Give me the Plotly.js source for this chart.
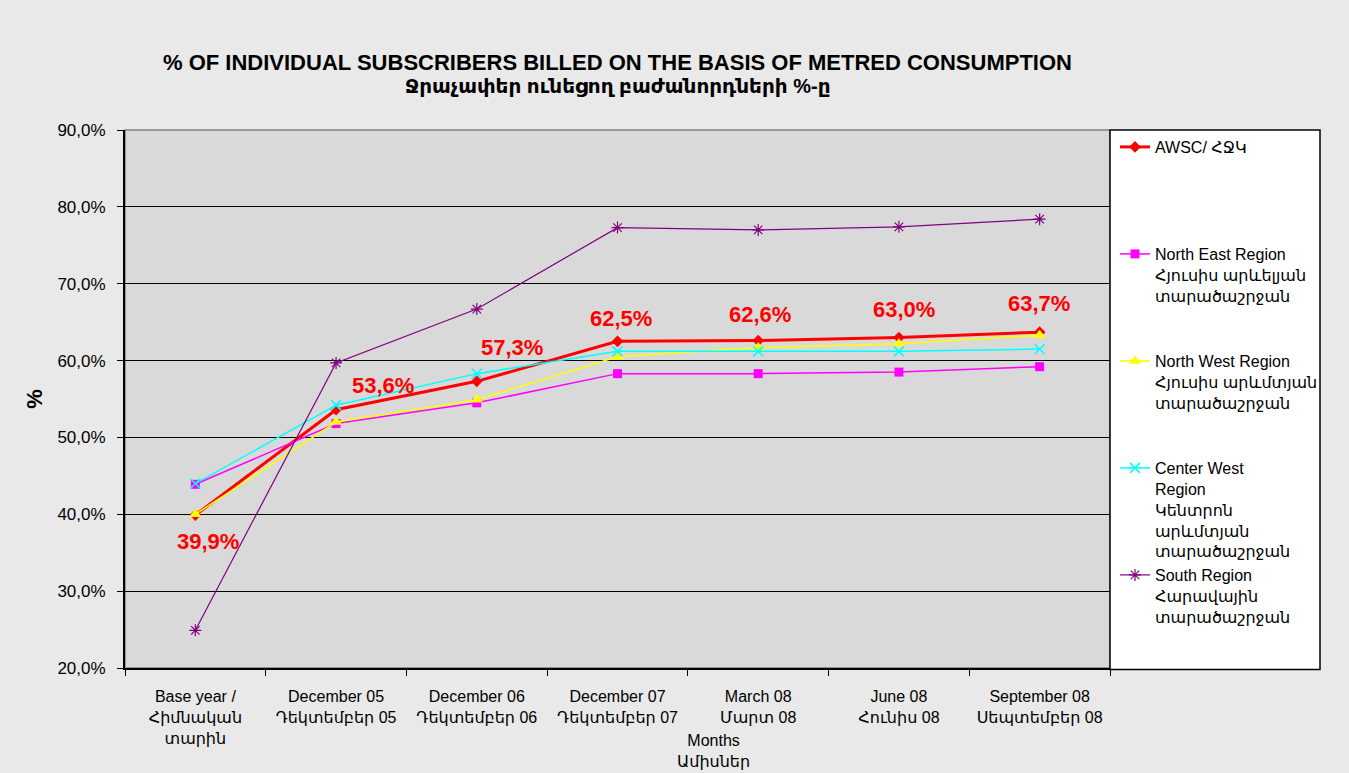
<!DOCTYPE html>
<html>
<head>
<meta charset="utf-8">
<script src="https://cdn.plot.ly/plotly-3.0.1.min.js"></script>
<style>
html,body{margin:0;padding:0;background:#e9e9e9;}
#chart{width:1349px;height:773px;}
</style>
</head>
<body>
<div id="chart"></div>
<script>
// ---- data ----
const categories = ["base", "dec05", "dec06", "dec07", "mar08", "jun08", "sep08"];
const tickLabels = [
  "Base year /<br>Հիմնական<br>տարին",
  "December 05<br>Դեկտեմբեր 05",
  "December 06<br>Դեկտեմբեր 06",
  "December 07<br>Դեկտեմբեր 07",
  "March 08<br>Մարտ 08",
  "June 08<br>Հունիս 08",
  "September 08<br>Սեպտեմբեր 08"
];
const awsc      = [39.9, 53.6, 57.3, 62.5, 62.6, 63.0, 63.7];
const northEast = [43.9, 51.8, 54.5, 58.3, 58.3, 58.5, 59.2];
const northWest = [40.0, 52.0, 54.9, 60.5, 61.7, 62.2, 63.3];
const centerWest= [44.0, 54.2, 58.3, 61.2, 61.2, 61.2, 61.5];
const south     = [24.9, 59.7, 66.7, 77.3, 77.0, 77.4, 78.4];
const seriesNames = [
  "AWSC/ ՀՋԿ",
  "North East Region<br>Հյուսիս արևելյան<br>տարածաշրջան",
  "North West Region<br>Հյուսիս արևմտյան<br>տարածաշրջան",
  "Center West<br>Region<br>Կենտրոն<br>արևմտյան<br>տարածաշրջան",
  "South Region<br>Հարավային<br>տարածաշրջան"
];
const yTickVals = [20, 30, 40, 50, 60, 70, 80, 90];
const yTickText = ["20,0%", "30,0%", "40,0%", "50,0%", "60,0%", "70,0%", "80,0%", "90,0%"];
const titleLine1 = "% OF INDIVIDUAL SUBSCRIBERS BILLED ON THE BASIS OF METRED CONSUMPTION";
const titleLine2 = "Ջրաչափեր ունեցող բաժանորդների %-ը";
const xTitle = "Months<br>Ամիսներ";
const yTitle = "%";

// ---- styles ----
const FONT = "Liberation Sans, Arial, Noto Sans, DejaVu Sans, sans-serif";
const labelDx = [13, 47, 35, 3, 2, 5, -1];
const labelDy = [-26, 24, 34, 23, 26, 28, 29];

function padName(s){
  const n = s.split("<br>").length;
  let out = s;
  for (let i = n; i < 5; i++) out += "<br>\u00a0";
  return out;
}

const traces = [
  {y: awsc, name: seriesNames[0], line:{color:"#ff0000", width:3},
   marker:{symbol:"diamond", size:9, color:"#ff0000"}},
  {y: northEast, name: seriesNames[1], line:{color:"#ff00ff", width:1.5},
   marker:{symbol:"square", size:9, color:"#ff00ff"}},
  {y: northWest, name: seriesNames[2], line:{color:"#ffff00", width:1.5},
   marker:{symbol:"triangle-up", size:11, color:"#ffff00"}},
  {y: centerWest, name: seriesNames[3], line:{color:"#00ffff", width:1.5},
   marker:{symbol:"x-thin-open", size:10, color:"#00ffff", line:{width:1.5, color:"#00ffff"}}},
  {y: south, name: seriesNames[4], line:{color:"#800080", width:1.2},
   marker:{symbol:"asterisk-open", size:10, color:"#800080", line:{width:1.2, color:"#800080"}}}
].map(t => Object.assign({x: categories, type:"scatter", mode:"lines+markers"}, t, {name: padName(t.name)}));

const annotations = awsc.map((v, i) => ({
  x: categories[i], y: v, xref:"x", yref:"y",
  text: v.toFixed(1).replace(".", ",") + "%",
  showarrow:false, xshift: labelDx[i], yshift: labelDy[i],
  font:{family:FONT, size:22, color:"#ff0000", weight:"bold"}
}));
annotations.push({
  xref:"paper", yref:"paper", x:0.597, y:0, yshift:-62, yanchor:"top",
  text: xTitle, showarrow:false, align:"center",
  font:{family:FONT, size:16, color:"#000"}
});
annotations.push({
  xref:"paper", yref:"paper", x:0.5, y:1, yshift:130 - 86, yanchor:"middle",
  text: "<b>" + titleLine2 + "</b>", showarrow:false,
  font:{family:FONT, size:20, color:"#000"}
});

const layout = {
  width:1349, height:773,
  paper_bgcolor:"#e9e9e9",
  plot_bgcolor:"#d9d9d9",
  margin:{l:125, r:239, t:130, b:105},
  title:{text:"<b>" + titleLine1 + "</b>",
         x:0.5, xref:"paper", xanchor:"center",
         y:1 - 62/773, yref:"container", yanchor:"middle",
         font:{family:FONT, size:22, color:"#000"}},
  showlegend:true,
  legend:{x:1 + 5/985, xanchor:"left", y:1, yanchor:"top", bgcolor:"rgba(0,0,0,0)",
          borderwidth:0, valign:"top", tracegroupgap:0,
          font:{family:FONT, size:16, color:"#000"}},
  xaxis:{type:"category", categoryorder:"array", categoryarray:categories,
         tickvals:categories, ticktext:tickLabels, tickson:"boundaries",
         ticks:"outside", ticklen:6, tickcolor:"#000", tickwidth:1,
         showline:true, linecolor:"#000", linewidth:2, showgrid:false,
         range:[-0.5, 6.5], fixedrange:true, ticklabelstandoff:13,
         tickfont:{family:FONT, size:16, color:"#000"}},
  yaxis:{range:[20, 90], tickvals:yTickVals, ticktext:yTickText,
         ticks:"outside", ticklen:6, tickcolor:"#000", tickwidth:1,
         showline:true, linecolor:"#000", linewidth:2,
         showgrid:true, gridcolor:"#000", gridwidth:1, zeroline:false,
         ticklabelstandoff:8,
         tickfont:{family:FONT, size:17, color:"#000"},
         title:{text:"<b>" + yTitle + "</b>", standoff:9, font:{family:FONT, size:22, color:"#000"}}},
  shapes:[
    {type:"rect", xref:"paper", yref:"paper", x0:0, x1:1, y0:0, y1:1,
     line:{color:"#808080", width:1.5}, layer:"below"},
    {type:"rect", xref:"paper", yref:"paper", x0:1, x1:1+210/985, y0:-0.003, y1:1,
     fillcolor:"#ffffff", line:{color:"#000", width:1.5}, layer:"below"}
  ],
  annotations: annotations
};

Plotly.newPlot("chart", traces, layout, {displayModeBar:false, staticPlot:true});
</script>
</body>
</html>
